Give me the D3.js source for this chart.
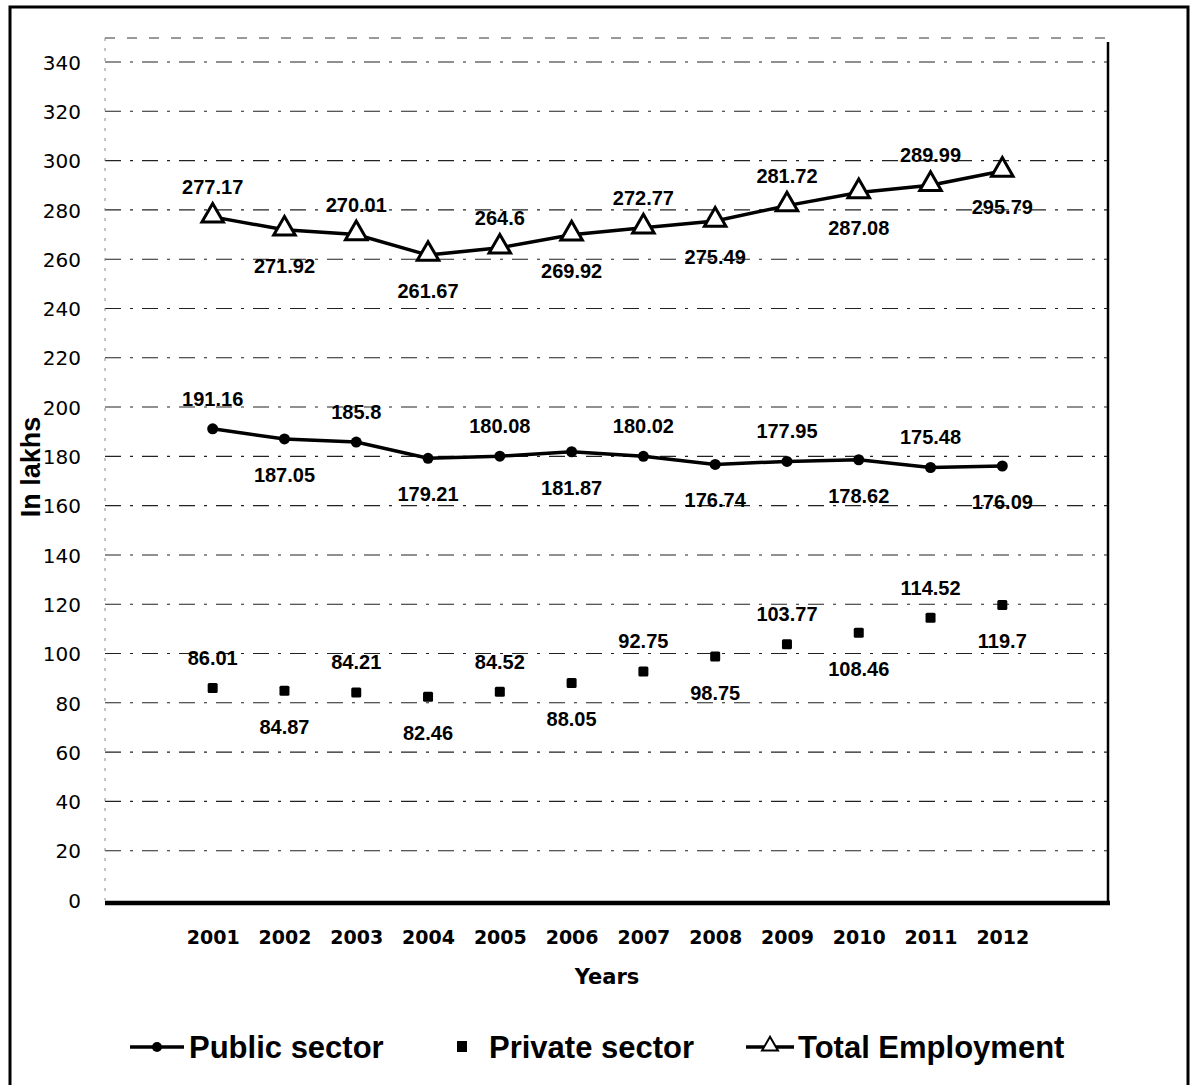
<!DOCTYPE html>
<html>
<head>
<meta charset="utf-8">
<script src="https://cdn.jsdelivr.net/npm/d3@7"></script>
<style>
  html, body { margin: 0; padding: 0; background: #fff; }
  svg { display: block; }
</style>
</head>
<body>
<svg id="chart" width="1190" height="1085"></svg>
<script>
const years = ["2001","2002","2003","2004","2005","2006","2007","2008","2009","2010","2011","2012"];
const publicSector = [191.16,187.05,185.8,179.21,180.08,181.87,180.02,176.74,177.95,178.62,175.48,176.09];
const privateSector = [86.01,84.87,84.21,82.46,84.52,88.05,92.75,98.75,103.77,108.46,114.52,119.7];
const totalEmployment = [277.17,271.92,270.01,261.67,264.6,269.92,272.77,275.49,281.72,287.08,289.99,295.79];
const yTicks = [0,20,40,60,80,100,120,140,160,180,200,220,240,260,280,300,320,340];
const seriesNames = ["Public sector","Private sector","Total Employment"];

const svg = d3.select("#chart");

// outer frame
svg.append("rect").attr("x",10).attr("y",7).attr("width",1178).attr("height",1090)
  .attr("fill","none").attr("stroke","#000").attr("stroke-width",3);

const x = d3.scalePoint().domain(years).range([105,1110]).padding(1.5);
const y = d3.scaleLinear().domain([0,340]).range([900,62]);

// gridlines
svg.append("g").selectAll("line").data(yTicks.filter(d=>d>0)).join("line")
  .attr("x1",105).attr("x2",1108)
  .attr("y1",d=>y(d)).attr("y2",d=>y(d))
  .attr("stroke","#222").attr("stroke-width",1.1)
  .attr("stroke-dasharray","16,9,3,9");
// top of plot area
svg.append("line").attr("x1",105).attr("x2",1108).attr("y1",38).attr("y2",38)
  .attr("stroke","#333").attr("stroke-width",1).attr("stroke-dasharray","10,12");
// left edge of plot area (dotted)
svg.append("line").attr("x1",105).attr("x2",105).attr("y1",38).attr("y2",900)
  .attr("stroke","#888").attr("stroke-width",1).attr("stroke-dasharray","3,7");
// right edge of plot area
svg.append("line").attr("x1",1108).attr("x2",1108).attr("y1",42).attr("y2",904)
  .attr("stroke","#000").attr("stroke-width",2.5);

// y axis labels
const yAxis = d3.axisLeft(y).tickValues(yTicks).tickSize(0).tickPadding(0);
const gy = svg.append("g").attr("transform","translate(81,0)").call(yAxis);
gy.select(".domain").remove();
gy.selectAll("text").attr("font-family","'DejaVu Sans', Verdana, sans-serif")
  .attr("font-size",20).attr("fill","#000").attr("dy","0.36em");

// x axis
const xAxis = d3.axisBottom(x).tickSize(0).tickPadding(0);
const gx = svg.append("g").attr("transform","translate(0,903)").call(xAxis);
gx.select(".domain").attr("stroke","#000").attr("stroke-width",4.5)
  .attr("d","M105,0H1110");
gx.selectAll("text").attr("font-family","'DejaVu Sans', Verdana, sans-serif")
  .attr("font-weight","bold").attr("font-size",19).attr("fill","#000")
  .attr("y",41).attr("dy",0);

// axis titles
svg.append("text").attr("x",607).attr("y",984).attr("text-anchor","middle")
  .attr("font-family","'DejaVu Sans', Verdana, sans-serif").attr("font-weight","bold")
  .attr("font-size",21).text("Years");
svg.append("text").attr("transform","translate(40,467) rotate(-90)").attr("text-anchor","middle")
  .attr("font-family","'Liberation Sans', Arial, sans-serif").attr("font-weight","bold")
  .attr("font-size",27).text("In lakhs");

const line = d3.line().x((d,i)=>x(years[i])).y(d=>y(d));

// lines
svg.append("path").datum(publicSector).attr("d",line)
  .attr("fill","none").attr("stroke","#000").attr("stroke-width",3.5);
svg.append("path").datum(totalEmployment).attr("d",line)
  .attr("fill","none").attr("stroke","#000").attr("stroke-width",3.5);

// markers
svg.append("g").selectAll("circle").data(publicSector).join("circle")
  .attr("cx",(d,i)=>x(years[i])).attr("cy",d=>y(d)).attr("r",5.5).attr("fill","#000");
svg.append("g").selectAll("rect").data(privateSector).join("rect")
  .attr("x",(d,i)=>x(years[i])-5).attr("y",d=>y(d)-5).attr("width",10).attr("height",10)
  .attr("rx",1.5).attr("fill","#000");
const tri = d3.symbol().type(d3.symbolTriangle).size(200);
svg.append("g").selectAll("path").data(totalEmployment).join("path")
  .attr("d",tri).attr("transform",(d,i)=>`translate(${x(years[i])},${y(d)-1})`)
  .attr("fill","#fff").attr("stroke","#000").attr("stroke-width",3);

// data labels
function labels(data){
  svg.append("g").selectAll("text").data(data).join("text")
    .attr("x",(d,i)=>x(years[i]))
    .attr("y",(d,i)=> i%2===0 ? y(d)-23 : y(d)+43)
    .attr("text-anchor","middle")
    .attr("font-family","'Liberation Sans', Arial, sans-serif").attr("font-weight","bold")
    .attr("font-size",20).attr("fill","#000")
    .text(d=>d);
}
labels(publicSector);
labels(privateSector);
labels(totalEmployment);

// legend
const ly = 1047;
const lf = "'Liberation Sans', Arial, sans-serif";
svg.append("line").attr("x1",130).attr("x2",184).attr("y1",ly).attr("y2",ly)
  .attr("stroke","#000").attr("stroke-width",3.5);
svg.append("circle").attr("cx",157).attr("cy",ly).attr("r",5).attr("fill","#000");
svg.append("text").attr("x",189).attr("y",ly+11).attr("font-family",lf).attr("font-weight","bold")
  .attr("font-size",31).text(seriesNames[0]);
svg.append("rect").attr("x",457).attr("y",ly-6).attr("width",10).attr("height",11).attr("fill","#000");
svg.append("text").attr("x",489).attr("y",ly+11).attr("font-family",lf).attr("font-weight","bold")
  .attr("font-size",31).text(seriesNames[1]);
svg.append("line").attr("x1",746).attr("x2",794).attr("y1",ly).attr("y2",ly)
  .attr("stroke","#000").attr("stroke-width",3.5);
svg.append("path").attr("d",d3.symbol().type(d3.symbolTriangle).size(110))
  .attr("transform",`translate(770,${ly-1})`).attr("fill","#fff").attr("stroke","#000").attr("stroke-width",2);
svg.append("text").attr("x",798).attr("y",ly+11).attr("font-family",lf).attr("font-weight","bold")
  .attr("font-size",31).text(seriesNames[2]);
</script>
</body>
</html>
